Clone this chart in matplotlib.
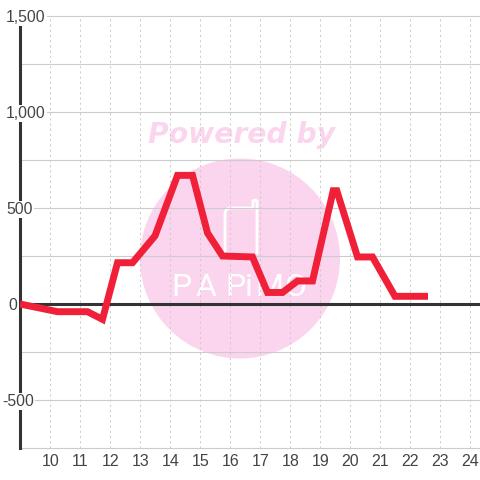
import matplotlib
matplotlib.use('Agg')
import matplotlib.pyplot as plt
from matplotlib.patches import Circle, PathPatch
from matplotlib.path import Path

hours = [9, 10.25, 11.25, 11.75, 12.25, 12.75, 13.5, 14.25, 14.75, 15.25, 15.75,
         16.75, 17.25, 17.75, 18.25, 18.75, 19.44, 19.56, 20.25, 20.75, 21.5, 22.6]
values = [0, -40, -40, -80, 215, 215, 355, 670, 670, 370, 250,
          245, 60, 60, 120, 120, 590, 590, 245, 245, 40, 40]
x_ticks = list(range(10, 25))
y_ticks = [-500, 0, 500, 1000, 1500]
y_labels = ['-500', '0', '500', '1,000', '1,500']
y_grid = [-750, -500, -250, 0, 250, 500, 750, 1000, 1250, 1500]

plt.rcParams['font.family'] = ['Liberation Sans', 'DejaVu Sans']

fig = plt.figure(figsize=(4.8, 4.8), dpi=100, facecolor='white')

# watermark sits behind the chart, in pixel coordinates
bg = fig.add_axes([0, 0, 1, 1], zorder=0)
bg.set_xlim(0, 480)
bg.set_ylim(480, 0)
bg.axis('off')
pink = '#fbd5ee'
bg.add_patch(Circle((240, 258.5), 100, fc=pink, ec='none'))
bg.text(242, 135, 'Powered by', color=pink, fontsize=20.3, fontweight='bold',
        fontstyle='italic', family='DejaVu Sans', ha='center', va='center')
logo = Path([(225, 254), (225, 214), (225, 208), (231, 208), (253, 208), (253, 201),
             (255, 199), (257, 201), (257, 254)],
            [Path.MOVETO, Path.LINETO, Path.CURVE3, Path.CURVE3, Path.LINETO,
             Path.LINETO, Path.CURVE3, Path.CURVE3, Path.LINETO])
bg.add_patch(PathPatch(logo, fc='none', ec='white', lw=2))
for letter, cx in zip('PAPiMO', [181, 206, 235, 249, 269, 295]):
    bg.text(cx, 288, letter, color='white', fontsize=23, family='Roboto',
            ha='center', va='center')

ax = fig.add_axes([20 / 480, 32 / 480, 460 / 480, 432 / 480], zorder=1)
ax.patch.set_visible(False)
ax.set_xlim(9, 9 + 460 / 30)
ax.set_ylim(-750, 1500)
for s in ['top', 'right', 'bottom']:
    ax.spines[s].set_visible(False)
ax.spines['left'].set_linewidth(2.2)
ax.spines['left'].set_color('#333333')
ax.spines['left'].set_zorder(3)

ax.set_yticks(y_grid)
ax.set_xticks(x_ticks)
ax.tick_params(length=0, labelleft=False, labelbottom=False)
ax.grid(axis='y', color='#cccccc', lw=0.8, clip_on=False)
ax.grid(axis='x', color='#cccccc', lw=0.75, linestyle=(0, (2, 3)))
ax.set_axisbelow(True)
ax.axhline(0, color='#333333', lw=2.2, zorder=3)

ax.plot(hours, values, color='#f02039', lw=5, solid_joinstyle='miter',
        solid_capstyle='butt', zorder=4)

for tick in x_ticks:
    ax.annotate(str(tick), (tick, 0), xycoords=('data', 'axes fraction'),
                xytext=(0.5, -13), textcoords='offset pixels', ha='center', va='center',
                fontsize=11.5, color='#444444')

# y labels start at the left edge and blank out the spine behind them
label_x = {'-500': 2, '0': 8}
for val, lab in zip(y_ticks, y_labels):
    bg_x = label_x.get(lab, 6)
    ax.annotate(lab, (0, val), xycoords=('axes pixels', 'data'),
                xytext=(bg_x - 20, -1.5), textcoords='offset pixels', ha='left', va='center',
                fontsize=11.3, color='#444444', zorder=5, annotation_clip=False,
                bbox=dict(fc='white', ec='none', pad=1.0))

fig.savefig('out.png', dpi=100)
